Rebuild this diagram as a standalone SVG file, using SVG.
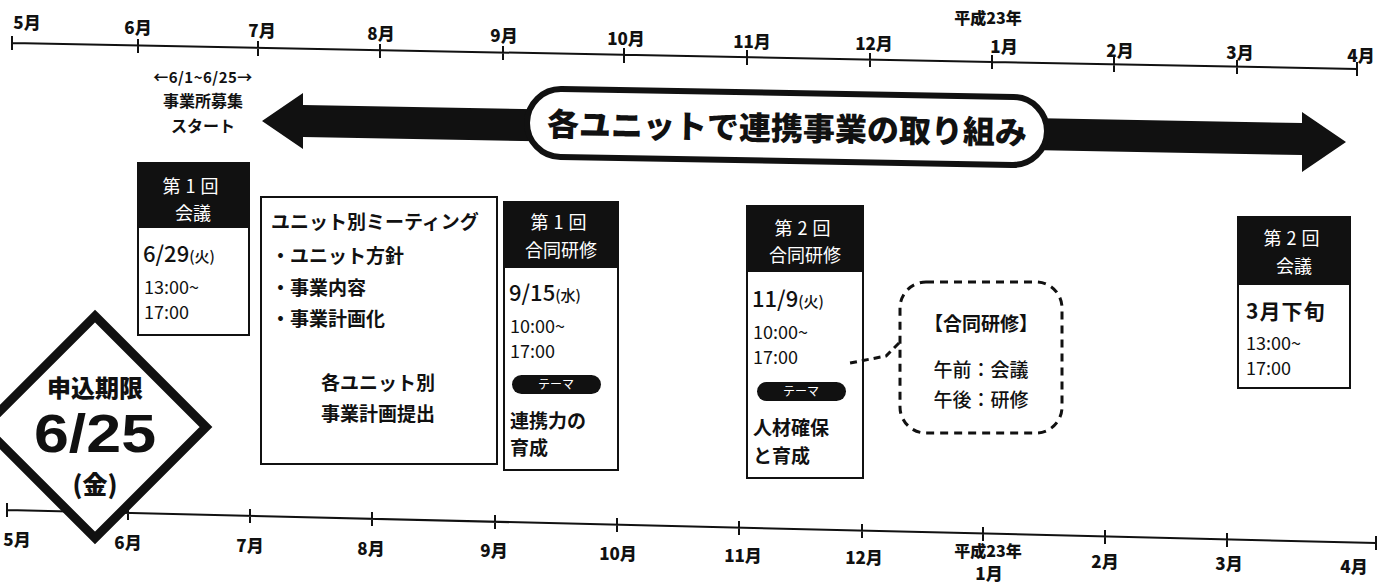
<svg xmlns="http://www.w3.org/2000/svg" width="1384" height="583" viewBox="0 0 1384 583">
<style>
text{font-family:"Noto Sans CJK JP","Noto Sans",sans-serif;fill:#111}
.m{font-size:17px;font-weight:900;text-anchor:middle}
.y{font-size:16px;font-weight:900;text-anchor:middle}
.tl{stroke:#111;stroke-width:2;fill:none}
.box{fill:#fff;stroke:#111;stroke-width:2}
.hd{fill:#111}
.hw{fill:#fff;font-size:18px;text-anchor:middle}
.dt{font-size:22px;font-weight:500}
.tm{font-size:18px;font-weight:400}
.th{font-size:19px;font-weight:700}
.pill{fill:#111}
.pw{fill:#fff;font-size:12px;text-anchor:middle}
.r{font-size:16px;font-weight:700;text-anchor:middle}
.n{font-size:19px;text-anchor:middle}
</style>
<rect width="1384" height="583" fill="#fff"/>

<g id="timeline-top">
<path class="tl" d="M12,43 L1357,69 M12,36 V50 M138,39 V53 M258,41 V56 M380,44 V58 M503,46 V60 M624,48 V63 M747,50 V65 M870,53 V67 M992,55 V69 M1114,57 V72 M1237,60 V74 M1357,62 V76"/>
<text class="m" x="27" y="29">5月</text>
<text class="m" x="138" y="34">6月</text>
<text class="m" x="262" y="37">7月</text>
<text class="m" x="381" y="40">8月</text>
<text class="m" x="504" y="42">9月</text>
<text class="m" x="626" y="45">10月</text>
<text class="m" x="752" y="48">11月</text>
<text class="m" x="874" y="50">12月</text>
<text class="y" x="988" y="24">平成23年</text>
<text class="m" x="1004" y="53">1月</text>
<text class="m" x="1120" y="57">2月</text>
<text class="m" x="1240" y="59">3月</text>
<text class="m" x="1361" y="62">4月</text>
</g>

<g id="timeline-bottom">
<path class="tl" d="M7,510 L1376,543 M7,503 V517 M128,506 V520 M250,509 V523 M372,512 V526 M495,515 V529 M617,518 V532 M739,521 V535 M862,524 V538 M983,527 V541 M1105,530 V544 M1227,533 V547 M1376,536 V550"/>
<text class="m" x="17" y="546">5月</text>
<text class="m" x="128" y="549">6月</text>
<text class="m" x="250" y="552">7月</text>
<text class="m" x="371" y="555">8月</text>
<text class="m" x="494" y="557">9月</text>
<text class="m" x="618" y="560">10月</text>
<text class="m" x="743" y="562">11月</text>
<text class="m" x="864" y="564">12月</text>
<text class="y" x="988" y="557">平成23年</text>
<text class="m" x="989" y="580">1月</text>
<text class="m" x="1105" y="568">2月</text>
<text class="m" x="1229" y="570">3月</text>
<text class="m" x="1354" y="573">4月</text>
</g>

<g id="recruit">
<text class="r" x="203" y="83" letter-spacing="0.5" style="font-size:15px">←6/1~6/25→</text>
<text class="r" x="203" y="107">事業所募集</text>
<text class="r" x="203" y="132">スタート</text>
</g>

<g id="unit-work">
<polygon fill="#111" points="262,121 303,93 303,105 1302,123 1302,112 1346,142 1302,172 1302,155 303,137 303,149"/>
<rect x="527" y="93" width="520" height="68" rx="34" fill="#fff" stroke="#111" stroke-width="6" transform="rotate(1 787 127)"/>
<text x="787" y="140" transform="rotate(1 787 127)" style="font-size:32px;font-weight:900;text-anchor:middle">各ユニットで連携事業の取り組み</text>
</g>

<g id="meeting1">
<rect class="box" x="138" y="163" width="111" height="172"/>
<rect class="hd" x="138" y="163" width="111" height="65"/>
<text class="hw" x="193" y="193" letter-spacing="5">第1回</text>
<text class="hw" x="193" y="220">会議</text>
<text class="dt" x="143" y="262">6/29<tspan font-size="15">(火)</tspan></text>
<text class="tm" x="144" y="294">13:00~</text>
<text class="tm" x="144" y="319">17:00</text>
</g>

<g id="unit-meeting">
<rect class="box" x="261" y="197" width="236" height="267"/>
<text class="th" x="271" y="229">ユニット別ミーティング</text>
<text class="th" x="271" y="263" font-weight="500">・ユニット方針</text>
<text class="th" x="271" y="295" font-weight="500">・事業内容</text>
<text class="th" x="271" y="326" font-weight="500">・事業計画化</text>
<text class="th" x="378" y="390" text-anchor="middle">各ユニット別</text>
<text class="th" x="378" y="421" text-anchor="middle">事業計画提出</text>
</g>

<g id="training1">
<rect class="box" x="504" y="202" width="114" height="268"/>
<rect class="hd" x="504" y="202" width="114" height="66"/>
<text class="hw" x="561" y="229" letter-spacing="5">第1回</text>
<text class="hw" x="561" y="257">合同研修</text>
<text class="dt" x="509" y="301">9/15<tspan font-size="15">(水)</tspan></text>
<text class="tm" x="510" y="333">10:00~</text>
<text class="tm" x="510" y="358">17:00</text>
<rect class="pill" x="512" y="375" width="89" height="19" rx="9.5"/>
<text class="pw" x="556" y="389">テーマ</text>
<text class="th" x="510" y="428">連携力の</text>
<text class="th" x="510" y="455">育成</text>
</g>

<g id="training2">
<rect class="box" x="747" y="206" width="116" height="272"/>
<rect class="hd" x="747" y="206" width="116" height="66"/>
<text class="hw" x="805" y="235" letter-spacing="5">第2回</text>
<text class="hw" x="805" y="262">合同研修</text>
<text class="dt" x="752" y="307">11/9<tspan font-size="15">(火)</tspan></text>
<text class="tm" x="753" y="339">10:00~</text>
<text class="tm" x="753" y="364">17:00</text>
<rect class="pill" x="757" y="382" width="89" height="19" rx="9.5"/>
<text class="pw" x="801" y="396">テーマ</text>
<text class="th" x="753" y="435">人材確保</text>
<text class="th" x="753" y="463">と育成</text>
</g>

<g id="training-note">
<rect x="900" y="282" width="162" height="151" rx="26" fill="#fff" stroke="#111" stroke-width="3" stroke-dasharray="8,6"/>
<text class="n" x="981" y="331" font-weight="700">【合同研修】</text>
<text class="n" x="981" y="377" font-weight="500">午前：会議</text>
<text class="n" x="981" y="407" font-weight="500">午後：研修</text>
</g>

<g id="meeting2">
<rect class="box" x="1238" y="217" width="112" height="171"/>
<rect class="hd" x="1238" y="217" width="112" height="68"/>
<text class="hw" x="1294" y="245" letter-spacing="5">第2回</text>
<text class="hw" x="1294" y="273">会議</text>
<text x="1246" y="319" style="font-size:21px;font-weight:700" letter-spacing="1">3月下旬</text>
<text class="tm" x="1246" y="350">13:00~</text>
<text class="tm" x="1246" y="375">17:00</text>
</g>

<g id="deadline">
<polygon points="95,316 206,427 95,538 -16,427" fill="#fff" stroke="#111" stroke-width="9" stroke-linejoin="miter"/>
<text x="95" y="397" style="font-size:24px;font-weight:900;text-anchor:middle">申込期限</text>
<text x="95" y="452" textLength="122" lengthAdjust="spacingAndGlyphs" style="font-family:'Liberation Sans',Arial,sans-serif;font-size:54px;font-weight:700;text-anchor:middle">6/25</text>
<text x="95" y="494" style="font-size:25px;font-weight:900;text-anchor:middle">(金)</text>
</g>

<g id="connectors">
<path d="M899,343 L886,356 L850,363" fill="none" stroke="#111" stroke-width="3" stroke-dasharray="7,5"/>
</g>
</svg>
